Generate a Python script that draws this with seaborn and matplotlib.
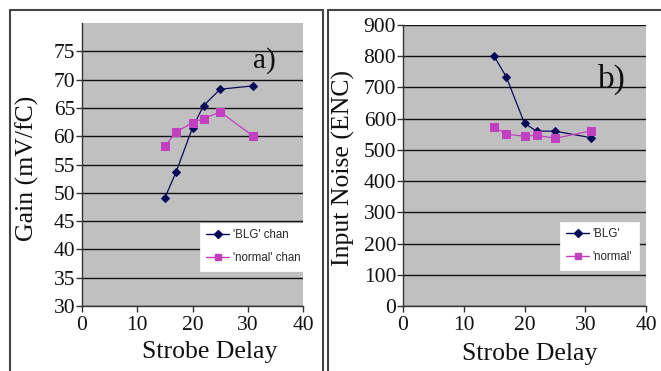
import numpy as np
import pandas as pd
import matplotlib
matplotlib.use("Agg")
import matplotlib.pyplot as plt
import seaborn as sns
from matplotlib.lines import Line2D

# ---- data ----
delay = [15, 17, 20, 22, 25, 31]
gain_blg = [49.1, 53.6, 61.5, 65.4, 68.3, 68.9]
gain_normal = [58.2, 60.7, 62.4, 63.1, 64.3, 60.0]
noise_blg = [800, 734, 585, 560, 560, 539]
noise_normal = [574, 550, 544, 547, 537, 561]

gain_labels = ["'BLG' chan", "'normal' chan"]
noise_labels = ["'BLG'", "'normal'"]
gain_ticks = [30, 35, 40, 45, 50, 55, 60, 65, 70, 75]
noise_ticks = [0, 100, 200, 300, 400, 500, 600, 700, 800, 900]
x_ticks = [0, 10, 20, 30, 40]

BLG_COLOR = "#0a0a5a"
NORM_COLOR = "#c040c0"
BG = "#c0c0c0"

sns.set_theme(style="white")
plt.rcParams['font.family'] = ['Liberation Serif', 'DejaVu Serif']

W, H = 661, 371
fig = plt.figure(figsize=(W / 100, H / 100), dpi=100)
fig.patch.set_facecolor("white")


def ax_rect(x0, y0, x1, y1):
    return [x0 / W, 1 - y1 / H, (x1 - x0) / W, (y1 - y0) / H]


ax1 = fig.add_axes(ax_rect(82, 23, 303, 306))
ax2 = fig.add_axes(ax_rect(403, 25, 646, 306))


def draw(ax, y1, y2, labels, yticks, ylim, ylabel, xl_coords, yl_coords):
    df = pd.DataFrame({
        "x": delay * 2,
        "y": list(y1) + list(y2),
        "s": [labels[0]] * len(delay) + [labels[1]] * len(delay),
    })
    ax.set_facecolor(BG)
    sns.lineplot(data=df[df.s == labels[0]], x="x", y="y", ax=ax, color=BLG_COLOR,
                 marker="D", markersize=4.5, markeredgecolor=BLG_COLOR, linewidth=0.9,
                 legend=False, sort=False)
    sns.lineplot(data=df[df.s == labels[1]], x="x", y="y", ax=ax, color=NORM_COLOR,
                 marker="s", markersize=5.5, markeredgecolor=NORM_COLOR, linewidth=0.9,
                 legend=False, sort=False)
    ax.set_xlim(0, 40)
    ax.set_ylim(*ylim)
    ax.set_xticks(x_ticks)
    ax.set_yticks(yticks)
    ax.yaxis.grid(True, color="#111111", linewidth=1.0)
    ax.set_axisbelow(True)
    for s in ["top", "right"]:
        ax.spines[s].set_visible(False)
    for s in ["left", "bottom"]:
        ax.spines[s].set_color("#333333")
        ax.spines[s].set_linewidth(1.0)
    ax.tick_params(axis="both", which="major", direction="out", length=4, width=1,
                   color="#333333", labelsize=15.5, pad=1, bottom=True, left=True,
                   labelcolor="#111111")
    ax.tick_params(axis="x", pad=3)
    ax.set_xlabel("Strobe Delay", fontsize=18.5, color="#111111", va="top")
    ax.set_ylabel(ylabel, fontsize=18.5, color="#111111", va="center")
    ax.xaxis.set_label_coords(*xl_coords)
    ax.yaxis.set_label_coords(*yl_coords)


draw(ax1, gain_blg, gain_normal, gain_labels, gain_ticks, (30, 80), "Gain (mV/fC)",
     (0.579, -0.124), (-0.249, 0.488))
draw(ax2, noise_blg, noise_normal, noise_labels, noise_ticks, (0, 900), "Input Noise (ENC)",
     (0.523, -0.132), (-0.247, 0.49))


def add_legend(ax, labels, loc_fig):
    handles = [
        Line2D([], [], color=BLG_COLOR, marker="D", markersize=4, linewidth=1.0),
        Line2D([], [], color=NORM_COLOR, marker="s", markersize=5, linewidth=1.0),
    ]
    leg = ax.legend(handles, labels, loc="upper left",
                    bbox_to_anchor=loc_fig, bbox_transform=fig.transFigure,
                    prop={"family": "Liberation Sans", "size": 8.3},
                    frameon=True, fancybox=False, framealpha=1, edgecolor="white",
                    handlelength=2.0, handletextpad=0.3, borderpad=0.55,
                    labelspacing=0.95, borderaxespad=0)
    leg.get_frame().set_linewidth(0.5)


add_legend(ax1, gain_labels, (200 / W, 1 - 223 / H))
add_legend(ax2, noise_labels, (560 / W, 1 - 222 / H))

fig.text(253 / W, 1 - 68 / H, "a)", fontsize=21, color="#111111", va="baseline")
fig.text(598 / W, 1 - 88 / H, "b)", fontsize=24, color="#111111", va="baseline")

# panel borders
line_kw = dict(color="#444444", linewidth=1.5, transform=fig.transFigure)
fig.add_artist(Line2D([10 / W, 10 / W], [0, 1 - 10 / H], **line_kw))
fig.add_artist(Line2D([10 / W, 323 / W], [1 - 10 / H, 1 - 10 / H], **line_kw))
fig.add_artist(Line2D([323 / W, 323 / W], [0, 1 - 10 / H], **line_kw))
fig.add_artist(Line2D([327.5 / W, 327.5 / W], [0, 1 - 10 / H], **line_kw))
fig.add_artist(Line2D([327.5 / W, 1], [1 - 10 / H, 1 - 10 / H], **line_kw))

fig.savefig("out.png", dpi=100)
